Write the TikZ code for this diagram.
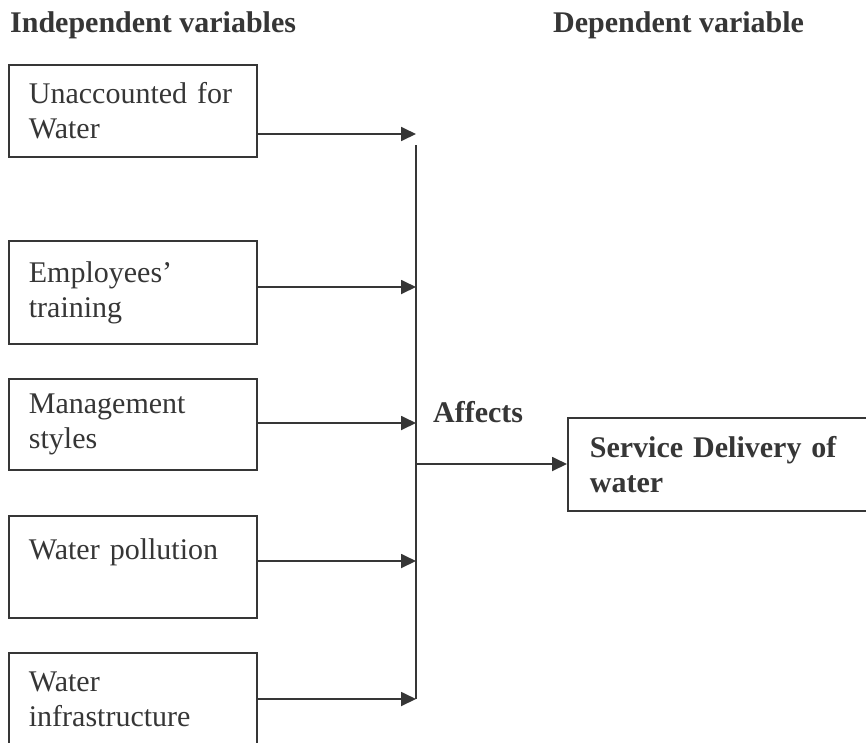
\documentclass[tikz,border=0pt]{standalone}
\usepackage{fontspec}
\setmainfont{Liberation Serif}
\usetikzlibrary{arrows.meta}
\definecolor{ink}{HTML}{363636}
\begin{document}
\begin{tikzpicture}[x=1pt,y=-1pt,
  every node/.style={text=ink,font=\fontsize{30}{35}\selectfont},
  varbox/.style={draw=ink,line width=1.8pt,anchor=north west,align=left,
    text width=208pt,inner xsep=20pt,inner ysep=0pt,minimum height=92pt},
  hdr/.style={anchor=base west,inner sep=0pt,font=\fontsize{30}{35}\selectfont\bfseries},
  conn/.style={draw=ink,line width=1.8pt},
  arr/.style={conn,-{Triangle[length=15pt,width=14pt]}}]
\clip (0,0) rectangle (866,742);
\fill[white] (0,0) rectangle (866,742);
\node[hdr] (hind) at (10,32) {Independent variables};
\node[hdr] (hdep) at (553,32) {Dependent variable};
\node[varbox] (b1) at (8,64) {Unaccounted for\\Water};
\node[varbox,minimum height=103pt] (b2) at (8,240) {Employees'\\training};
\node[varbox,minimum height=91pt] (b3) at (8,378) {Management\\styles};
\node[varbox,minimum height=102pt] (b4) at (8,515) {Water pollution\\\phantom{W}};
\node[varbox] (b5) at (8,652) {Water\\infrastructure};
\node[varbox,font=\fontsize{30}{35}\selectfont\bfseries,text width=280pt,inner xsep=22pt,minimum height=93pt] (svc) at (567,417) {Service Delivery of\\water};
\node[hdr] (aff) at (433,422) {Affects};
\coordinate (a1) at (416,134);
\coordinate (a2) at (416,287);
\coordinate (a3) at (416,423);
\coordinate (a4) at (416,561);
\coordinate (a5) at (416,699);
\coordinate (bustop) at (416,145);
\coordinate (busout) at (416,464);
\draw[conn] (bustop) -- (a5);
\draw[arr] (b1.east |- a1) -- (a1);
\draw[arr] (b2.east |- a2) -- (a2);
\draw[arr] (b3.east |- a3) -- (a3);
\draw[arr] (b4.east |- a4) -- (a4);
\draw[arr] (b5.east |- a5) -- (a5);
\draw[arr] (busout) -- (svc.west |- busout);
\end{tikzpicture}
\end{document}
